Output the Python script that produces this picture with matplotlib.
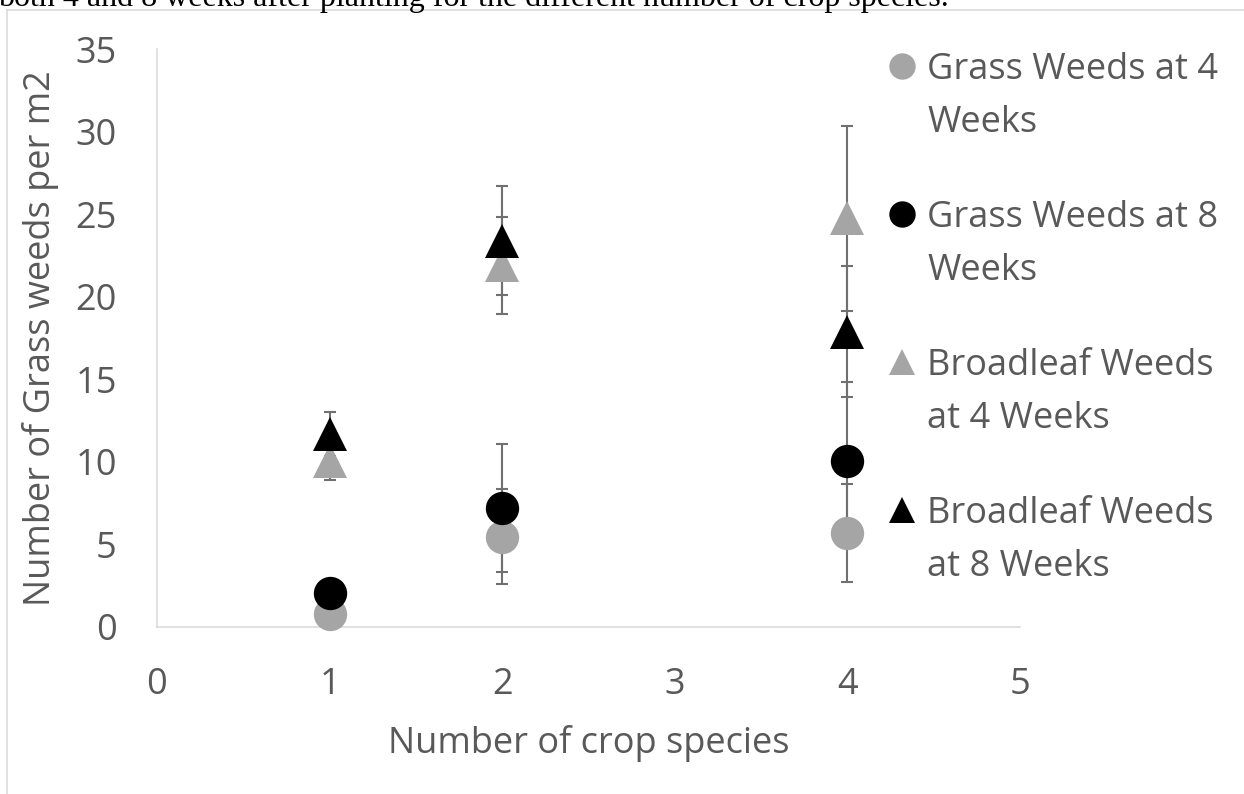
import matplotlib
matplotlib.use('Agg')
import matplotlib.pyplot as plt
from matplotlib.lines import Line2D

plt.rcParams['font.family'] = ['Open Sans', 'DejaVu Sans']

# data (means and standard errors)
species = [1, 2, 4]
grass_4wk = [0.77, 5.47, 5.68]
grass_4wk_err = [0.5, 2.87, 2.97]
grass_8wk = [2.08, 7.19, 10.05]
grass_8wk_err = [0.6, 3.88, 4.81]
broad_4wk = [10.07, 21.91, 24.74]
broad_4wk_err = [1.17, 2.94, 5.6]
broad_8wk = [11.69, 23.40, 17.89]
broad_8wk_err = [1.31, 3.31, 3.98]

labels = ['Grass Weeds at 4\nWeeks', 'Grass Weeds at 8\nWeeks',
          'Broadleaf Weeds\nat 4 Weeks', 'Broadleaf Weeds\nat 8 Weeks']
x_ticks = [0, 1, 2, 3, 4, 5]
y_ticks = [0, 5, 10, 15, 20, 25, 30, 35]

caption = 'both 4 and 8 weeks after planting for the different number of crop species.'

TXT = '#595959'
GRAY = '#a5a5a5'
W, H = 1244, 794

series = [
    (grass_4wk, grass_4wk_err, 'o', GRAY),
    (grass_8wk, grass_8wk_err, 'o', 'black'),
    (broad_4wk, broad_4wk_err, '^', GRAY),
    (broad_8wk, broad_8wk_err, '^', 'black'),
]

fig = plt.figure(figsize=(W / 100, H / 100), dpi=100)
ax = fig.add_axes([157 / W, 1 - 627 / H, 863 / W, 578 / H])

# error bars underneath all markers
for vals, errs, m, c in series:
    ax.errorbar(species, vals, yerr=errs, fmt='none', ecolor='#707070',
                elinewidth=1.5, capsize=4.3, capthick=1.5, zorder=2)
for i, (vals, errs, m, c) in enumerate(series):
    ax.plot(species, vals, linestyle='none', marker=m, markersize=24,
            color=c, markeredgewidth=0, zorder=3 + i, clip_on=False)

ax.set_xlim(0, 5)
ax.set_ylim(0, 35)
ax.set_xticks(x_ticks)
ax.set_yticks(y_ticks)
ax.tick_params(length=0, labelsize=26, labelcolor=TXT)
ax.tick_params(axis='x', pad=29)
ax.tick_params(axis='y', pad=29)
for s in ['top', 'right']:
    ax.spines[s].set_visible(False)
for s in ['left', 'bottom']:
    ax.spines[s].set_color('#d9d9d9')
    ax.spines[s].set_linewidth(1.1)

ax.set_xlabel('Number of crop species', fontsize=26, color=TXT, labelpad=16)
fig.text(41 / W, 1 - 338 / H, 'Number of Grass weeds per m2', rotation=90,
         ha='center', va='center', fontsize=26, color=TXT)

# legend, drawn by hand to get the wrapped labels spaced like the original
base_y = [79, 227, 375, 523]
line_gap = 53
for (vals, errs, m, c), lab, by in zip(series, labels, base_y):
    fig.add_artist(Line2D([902 / W], [1 - (by - 13) / H], transform=fig.transFigure,
                          marker=m, markersize=19, color=c, markeredgewidth=0,
                          linestyle='none'))
    for k, part in enumerate(lab.split('\n')):
        fig.text(927 / W, 1 - (by + k * line_gap) / H, part, ha='left',
                 va='baseline', fontsize=26, color=TXT)

# chart frame and the cut-off caption above it
fig.add_artist(Line2D([7 / W, 7 / W], [1 - 10 / H, 0], transform=fig.transFigure,
                      color='#d9d9d9', linewidth=1.1))
fig.add_artist(Line2D([7 / W, 1], [1 - 10 / H, 1 - 10 / H], transform=fig.transFigure,
                      color='#d9d9d9', linewidth=1.1))
fig.text(-2 / W, 1 - 6 / H, caption, ha='left', va='baseline', fontsize=23,
         family='Liberation Serif', color='black')

fig.savefig('out.png', dpi=100)
